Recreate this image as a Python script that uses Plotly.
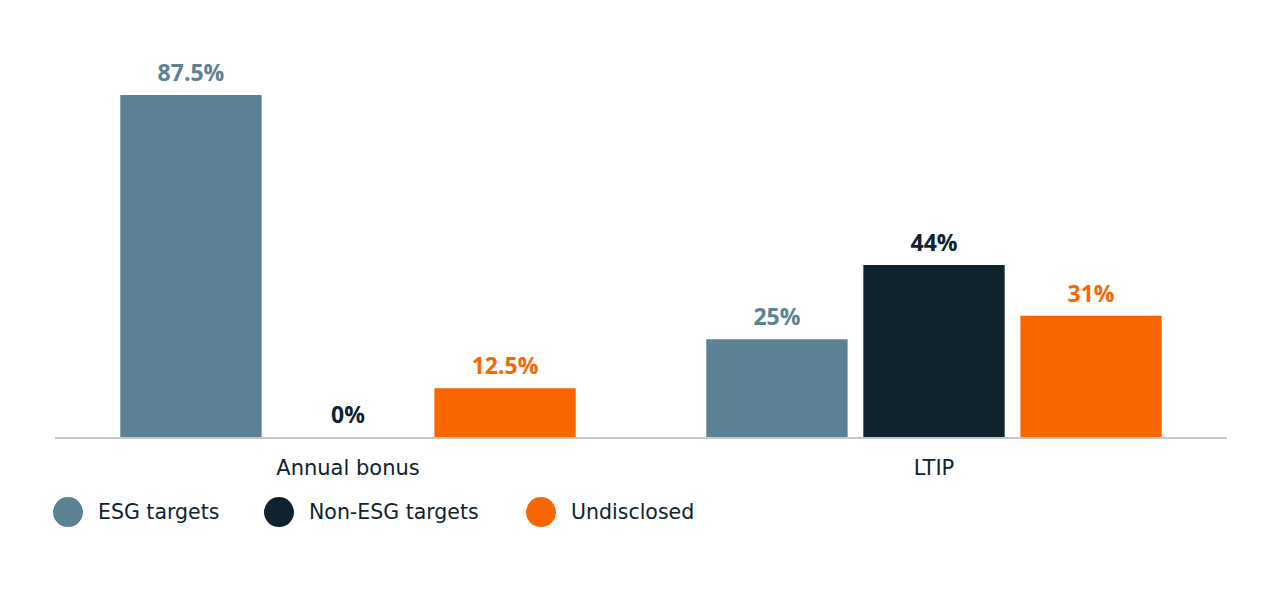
import plotly.graph_objects as go

categories = ["Annual bonus", "LTIP"]
series_names = ["ESG targets", "Non-ESG targets", "Undisclosed"]
esg_values = [87.5, 25]
non_esg_values = [0, 44]
undisclosed_values = [12.5, 31]
value_labels = [["87.5%", "25%"], ["0%", "44%"], ["12.5%", "31%"]]
colors = ["#5b8195", "#0e232e", "#f86600"]

FONT = "DejaVu Sans"
BOLD_FONT = "Open Sans"
all_values = [esg_values, non_esg_values, undisclosed_values]

fig = go.Figure()
for name, vals, col in zip(series_names, all_values, colors):
    fig.add_trace(go.Bar(
        x=categories, y=vals, name=name,
        marker=dict(color=col, line=dict(width=0)),
        showlegend=False, hoverinfo="x+y+name",
    ))
# value labels: grouped text scatter traces aligned with the bars
for name, vals, labels, col in zip(series_names, all_values, value_labels, colors):
    fig.add_trace(go.Scatter(
        x=categories, y=vals, name=name, mode="markers+text",
        marker=dict(size=12, opacity=0),
        text=labels, textposition="top center",
        textfont=dict(family=BOLD_FONT, size=23, color=col, weight="bold"),
        cliponaxis=False, showlegend=False, hoverinfo="skip",
    ))

# legend drawn as large circles + labels below the plot
legend_x_px = [68, 279, 541]
plot_left, plot_right = 55, 1227
plot_w = plot_right - plot_left
for name, col, xp in zip(series_names, colors, legend_x_px):
    xa = (xp - plot_left) / plot_w
    fig.add_shape(type="circle", xref="paper", yref="paper",
                  xsizemode="pixel", ysizemode="pixel",
                  xanchor=xa, yanchor=-0.192,
                  x0=-15, x1=15, y0=-15, y1=15,
                  fillcolor=col, line=dict(width=0))
    fig.add_annotation(xref="paper", yref="paper", x=(xp + 28 - plot_left) / plot_w,
                       y=-0.192, text=name, showarrow=False,
                       xanchor="left", yanchor="middle",
                       font=dict(family=FONT, size=20.5, color="#0e232e"))

fig.update_layout(
    width=1280, height=591,
    margin=dict(l=55, r=53, t=46, b=154),
    paper_bgcolor="white", plot_bgcolor="white",
    barmode="group", bargap=0.196, bargroupgap=0.10,
    scattermode="group", scattergap=0.196,
    showlegend=False,
    xaxis=dict(showgrid=False, showline=True, linecolor="#c3c7ca", linewidth=2,
               ticks="", ticklabelstandoff=11,
               tickfont=dict(family=FONT, size=21, color="#0e232e"),
               range=[-0.5, 1.5]),
    yaxis=dict(range=[0, 100], visible=False, showgrid=False, zeroline=False),
)

fig.write_html("out.html")
